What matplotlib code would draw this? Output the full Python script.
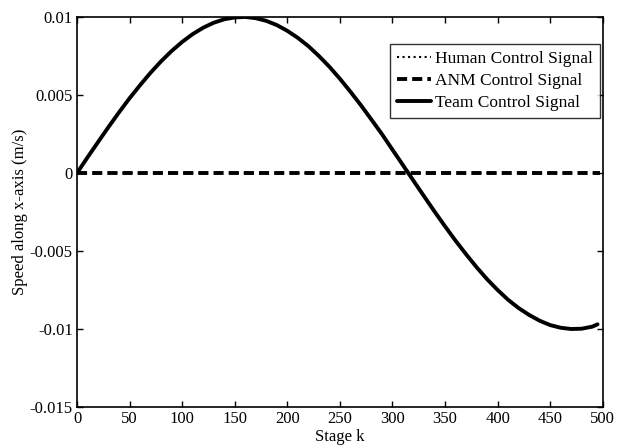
import matplotlib

matplotlib.use("Agg")
import matplotlib.pyplot as plt  # noqa: E402

# stage index and speed readings (m/s)
stage = list(range(0, 500, 10)) + [495]
team = [0.0, 0.00100, 0.00198, 0.00295, 0.00389, 0.00479, 0.00563, 0.00643,
        0.00716, 0.00782, 0.00840, 0.00890, 0.00931, 0.00963, 0.00985,
        0.00997, 0.01000, 0.00992, 0.00975, 0.00948, 0.00911, 0.00866,
        0.00813, 0.00750, 0.00681, 0.00604, 0.00521, 0.00434, 0.00342,
        0.00249, 0.00149, 0.00050, -0.00050, -0.00149, -0.00247, -0.00342,
        -0.00434, -0.00521, -0.00604, -0.00681, -0.00750, -0.00813, -0.00866,
        -0.00910, -0.00947, -0.00975, -0.00992, -0.01000, -0.00998, -0.00985,
        -0.00970]
flat_stage = [0, 497]
human = [0.0, 0.0]
anm = [0.0, 0.0]

x_ticks = [0, 50, 100, 150, 200, 250, 300, 350, 400, 450, 500]
y_ticks = [-0.015, -0.01, -0.005, 0, 0.005, 0.01]
y_labels = ["-0.015", "-0.01", "-0.005", "0", "0.005", "0.01"]

plt.rcParams["font.family"] = ["Liberation Serif", "DejaVu Serif"]

fig = plt.figure(figsize=(6.24, 4.46), dpi=100)
ax = fig.add_axes([0.1234, 0.0874, 0.8426, 0.8746])

ax.plot(flat_stage, human, color="black", linestyle=":", linewidth=1.5,
        label="Human Control Signal", zorder=2)
ax.plot(flat_stage, anm, color="black", linestyle=(0, (2.6, 1.3)), linewidth=2.8,
        gapcolor="white", label="ANM Control Signal", zorder=3)
ax.plot(stage, team, color="black", linestyle="-", linewidth=2.8,
        solid_joinstyle="round", solid_capstyle="round",
        label="Team Control Signal", zorder=4)

ax.set_xlim(0, 500)
ax.set_ylim(-0.015, 0.01)
ax.set_xticks(x_ticks)
ax.set_yticks(y_ticks)
ax.set_yticklabels(y_labels)
ax.tick_params(direction="in", top=True, right=True, labelsize=12,
               length=4, width=1, pad=3)
for s in ax.spines.values():
    s.set_linewidth(1.2)

ax.set_xlabel("Stage k", fontsize=12, labelpad=1)
ax.set_ylabel("Speed along x-axis (m/s)", fontsize=12, labelpad=1)

leg = ax.legend(loc="upper right", bbox_to_anchor=(0.994, 0.931), fontsize=12.5,
                frameon=True, fancybox=False, edgecolor="black",
                handlelength=2.0, handletextpad=0.2, borderpad=0.4,
                labelspacing=0.35, borderaxespad=0)
leg.get_frame().set_linewidth(1.0)

fig.savefig("out.png", dpi=100)
